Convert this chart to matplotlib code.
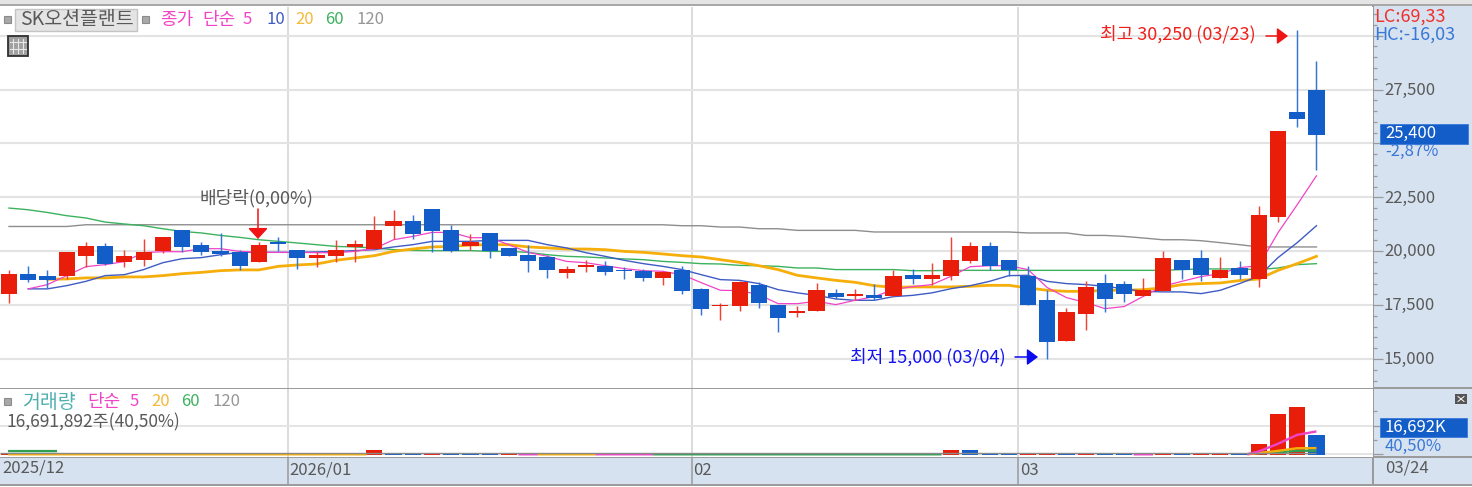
import numpy as np
import matplotlib
matplotlib.use("Agg")
import matplotlib.pyplot as plt
from matplotlib.patches import Rectangle
from matplotlib.ticker import FixedLocator, FuncFormatter
from matplotlib.transforms import ScaledTranslation

plt.rcParams["font.family"] = ["Noto Sans CJK KR", "DejaVu Sans"]

nan = float("nan")

# Daily prices, 2025/12 .. 03/24
opens = [18035, 18960, 18840, 18840, 19765, 20225, 19485, 19580, 20030, 20970, 20275, 19995, 19980, 19485, 20410,
         20075, 19690, 19765, 20200, 20105, 21155, 21405, 21960, 20970, 20225, 20850, 20155, 19810, 19735, 18995,
         19275, 19300, 19150, 19100, 18765, 19150, 18270, 17445, 17445, 18420, 17495, 17140, 17250, 18070, 17910,
         17990, 17910, 18885, 18715, 18840, 19565, 20225, 19580, 18840, 17725, 15860, 17110, 18530, 18465, 17945,
         18140, 19580, 19670, 18765, 19240, 18715, 21570, 26480, 27500]
closes = [18960, 18650, 18650, 19950, 20225, 19425, 19795, 19950, 20645, 20180, 19970, 19890, 19330, 20275, 20340,
          19690, 19840, 20075, 20350, 20970, 21405, 20815, 20920, 19995, 20430, 19995, 19765, 19530, 19115, 19180,
          19380, 19040, 19070, 18765, 19040, 18140, 17325, 17525, 18560, 17605, 16910, 17250, 18190, 17865, 18020,
          17835, 18840, 18715, 18885, 19580, 20225, 19330, 19150, 17525, 15780, 17170, 18345, 17805, 18020, 18220,
          19670, 19150, 18915, 19150, 18915, 21665, 25585, 26145, 25400]
highs = [19115, 19330, 19115, 19950, 20445, 20400, 20075, 20585, 20645, 20970, 20445, 20860, 20075, 20445, 20645,
         20075, 19980, 20505, 20505, 21615, 21895, 21695, 21960, 21200, 20800, 20850, 20155, 20275, 19840, 19300,
         19580, 19530, 19275, 19180, 19100, 19300, 18300, 17605, 18605, 18560, 17525, 17445, 18530, 18255, 18270,
         18500, 19115, 19180, 19460, 20645, 20430, 20430, 19580, 19300, 18190, 17375, 18605, 18960, 18605, 18765,
         19995, 19580, 20075, 19735, 19530, 22080, 25585, 30250, 28845]
lows = [17620, 18590, 18310, 18730, 19285, 19380, 19285, 19330, 19935, 19980, 19810, 19765, 19150, 19485, 19995,
        19195, 19275, 19485, 19485, 20105, 20570, 20570, 19970, 19970, 20040, 19690, 19765, 19040, 18765, 18765,
        19040, 18915, 18715, 18640, 18420, 18020, 17030, 16830, 17250, 17375, 16260, 16955, 17250, 17790, 17725,
        17725, 17910, 18500, 18455, 18650, 19460, 19150, 18840, 17525, 15000, 15860, 16335, 17190, 17650, 17945,
        18140, 18715, 18640, 18765, 18715, 18345, 21340, 25785, 23780]

# Moving averages of the close
ma5 = [nan, 18255, 18455, 18870, 19285, 19380, 19520, 19935, 19980, 19980, 20120, 20120, 19995, 19950, 19950,
       19950, 19935, 19935, 19995, 20120, 20535, 20690, 20875, 20875, 20630, 20630, 20305, 19950, 19765, 19530,
       19470, 19330, 19195, 19100, 19070, 18915, 18545, 18190, 18175, 17990, 17570, 17570, 17680, 17525, 17725,
       17895, 18220, 18360, 18455, 18840, 19285, 19330, 19330, 19150, 18315, 17850, 17620, 17340, 17435, 17910,
       18375, 18605, 18825, 18960, 19240, 19330, 20860, 22160, 23500]
ma10 = [nan, 18255, 18255, 18405, 18605, 18870, 18915, 19150, 19470, 19655, 19705, 19840, 19950, 19950, 19950,
        19950, 19970, 19995, 20030, 20075, 20200, 20305, 20460, 20460, 20460, 20505, 20505, 20505, 20305, 20155,
        19935, 19765, 19580, 19425, 19300, 19150, 18915, 18685, 18650, 18500, 18220, 18070, 17955, 17790, 17725,
        17725, 17895, 17955, 18070, 18265, 18405, 18605, 18870, 18885, 18605, 18500, 18455, 18375, 18260, 18140,
        18115, 18115, 18035, 18190, 18500, 18840, 19705, 20400, 21185]
ma20 = [nan, nan, 18700, 18715, 18765, 18765, 18810, 18810, 18870, 18960, 19020, 19100, 19135, 19135, 19300,
        19365, 19410, 19580, 19690, 19795, 19995, 20105, 20200, 20225, 20290, 20305, 20305, 20200, 20155, 20105,
        20105, 20075, 19995, 19950, 19875, 19795, 19735, 19610, 19485, 19330, 19150, 18885, 18765, 18650, 18560,
        18405, 18325, 18345, 18345, 18345, 18375, 18420, 18420, 18300, 18190, 18140, 18140, 18190, 18190, 18220,
        18300, 18455, 18500, 18530, 18640, 18715, 19115, 19425, 19765]
ma60 = [22005, 21925, 21800, 21650, 21545, 21355, 21265, 21185, 21045, 20920, 20850, 20735, 20645, 20535, 20460,
        20385, 20305, 20225, 20200, 20155, 20075, 20040, 20030, 20030, 20030, 19995, 19995, 19950, 19840, 19765,
        19735, 19690, 19645, 19610, 19530, 19485, 19425, 19410, 19345, 19330, 19300, 19225, 19225, 19150, 19150,
        19150, 19150, 19100, 19100, 19115, 19115, 19115, 19115, 19115, 19115, 19115, 19115, 19115, 19115, 19115,
        19115, 19150, 19180, 19180, 19180, 19150, 19225, 19380, 19425]
ma120 = [21150, 21150, 21150, 21150, 21230, 21230, 21230, 21230, 21230, 21230, 21230, 21230, 21230, 21230, 21230,
         21230, 21230, 21230, 21230, 21230, 21230, 21230, 21230, 21230, 21230, 21230, 21230, 21230, 21230, 21230,
         21230, 21230, 21230, 21230, 21230, 21185, 21185, 21125, 21125, 21045, 21045, 20970, 20970, 20970, 20970,
         20895, 20895, 20895, 20895, 20895, 20895, 20895, 20895, 20850, 20850, 20850, 20735, 20735, 20690, 20615,
         20535, 20535, 20490, 20400, 20305, 20200, 20200, 20200, 20200]

# Volume in thousands of shares, with the up/down colour of each bar
volume = [900, 250, 250, 250, 250, 250, 250, 250, 250, 250, 250, 250, 250, 250, 250,
          250, 250, 250, 250, 3700, 1000, 1000, 1050, 1000, 1000, 1000, 1050, 250, 250, 250,
          250, 250, 250, 250, 250, 250, 250, 250, 250, 250, 250, 250, 250, 250, 250,
          250, 250, 250, 250, 3760, 3500, 1000, 1000, 1050, 1050, 1000, 1050, 1000, 1000, 250,
          1050, 1000, 1050, 1050, 1000, 8740, 34960, 41214, 16692]
volume_rising = [1, 0, 0, 0, 0, 0, 0, 0, 0, 0, 0, 0, 0, 0, 0,
                 0, 0, 0, 0, 1, 0, 0, 1, 0, 0, 0, 1, 0, 0, 0,
                 0, 0, 0, 0, 0, 0, 0, 0, 0, 0, 0, 0, 0, 0, 0,
                 0, 0, 0, 0, 1, 0, 0, 0, 1, 1, 0, 1, 0, 0, 0,
                 1, 0, 1, 1, 0, 1, 1, 1, 0]

vol_ma5_x = [26.5, 27.5, nan, 30.5, 33.5, nan, 58.5, 59.5, nan, 64.4, 65, 66, 67, 68]
vol_ma5 = [10, 10, nan, 10, 10, nan, 10, 10, nan, 10, 2500, 9200, 17000, 20000]
vol_ma20_x = [-0.05, 18.6, nan, 27.5, 30.5, nan, 64.4, 65, 66, 67, 68]
vol_ma20 = [10, 10, nan, 10, 10, nan, 10, 1150, 3000, 5300, 5400]
vol_ma60_x = [-0.05, 2.5, nan, 33.5, 48.5, nan, 65, 66, 67, 68]
vol_ma60 = [2800, 2800, nan, 10, 10, nan, 900, 1700, 3100, 3100]
vol_ma120_x = [-0.45, 68]
vol_ma120 = [1130, 1130]

# Month labels, placed on the first session of each month
month_pos = [14.5, 35.5, 52.5]
month_labels = ["2026/01", "02", "03"]
price_ticks = [15000, 17500, 20000, 22500, 25000, 27500, 30000]
price_labelled = [15000, 17500, 20000, 22500, 27500]

W, H = 1472, 487
RED, BLUE = "#E81D0A", "#135DC9"
RED_W, BLUE_W = "#EE4434", "#3274D8"
PINK, NAVY, ORANGE, GREEN, GRAY = "#F044C8", "#3F5BC4", "#F5AE0A", "#3CB25E", "#969696"
STRIP = "#D6E2F0"
AXIS = "#9A9A9A"
INK = "#595959"
XL = (-9 / 19.22, (1372 - 9) / 19.22)


def panel(x0, y0, x1, y1, **kw):
    return fig.add_axes([x0 / W, 1 - y1 / H, (x1 - x0) / W, (y1 - y0) / H], **kw)


fig = plt.figure(figsize=(W / 100, H / 100), dpi=100, facecolor="white")

# Window furniture behind the two chart panels
bg = fig.add_axes([0, 0, 1, 1], zorder=0)
bg.set_xlim(0, W)
bg.set_ylim(H, 0)
bg.axis("off")
bg.add_patch(Rectangle((0, 0), W, 4, color="#E4E4E4", lw=0))
bg.add_patch(Rectangle((0, 4), W, 2, color="#A8A8A8", lw=0))
bg.add_patch(Rectangle((1373, 6), W - 1373, H - 9, color=STRIP, lw=0))
bg.add_patch(Rectangle((0, 458), W, 26, color=STRIP, lw=0))
bg.plot([0, W], [388.2, 388.2], color=AXIS, lw=1.4)
bg.plot([0, W], [457.3, 457.3], color=AXIS, lw=1.4)
bg.plot([0, W], [484.5, 484.5], color=AXIS, lw=1.4)
bg.plot([1372.8, 1372.8], [6, 484], color=AXIS, lw=1.4)

up_shift = ScaledTranslation(0, 1.0 / 72, fig.dpi_scale_trans)

# Price panel
ax = panel(0, 7, 1372.5, 387.5, zorder=1)
ax.set_xlim(*XL)
ax.set_ylim(13680, 31332)
idx = np.arange(len(opens))
ax.plot(idx, ma120, color="#8E8E8E", lw=1.0, zorder=2.0)
ax.plot(idx, ma60, color=GREEN, lw=1.0, zorder=2.1)
ax.plot(idx, ma20, color=ORANGE, lw=2.0, zorder=2.2)
ax.plot(idx, ma10, color=NAVY, lw=1.0, zorder=2.3)
ax.plot(idx, ma5, color=PINK, lw=0.9, zorder=2.4)
for i, (o, h, l, c) in enumerate(zip(opens, highs, lows, closes)):
    up = c > o
    ax.vlines(i, l, h, color=RED_W if up else BLUE_W, lw=1.05, zorder=3)
    ax.bar(i, abs(c - o), bottom=min(o, c), width=0.84, color=RED if up else BLUE, lw=0, zorder=3.1)

ax.set_yticks(price_ticks)
ax.yaxis.set_minor_locator(FixedLocator(np.arange(14000, 31500, 500)))
ax.yaxis.tick_right()
ax.yaxis.set_major_formatter(FuncFormatter(lambda v, _: f"{int(v):,}" if v in price_labelled else ""))
ax.tick_params(axis="y", which="major", length=7.2, width=0.9, color=AXIS, labelsize=12, labelcolor=INK, pad=1)
ax.tick_params(axis="y", which="minor", length=3.0, width=0.9, color=AXIS)
for lab in ax.get_yticklabels():
    lab.set_transform(lab.get_transform() + up_shift)
ax.set_xticks(month_pos)
ax.tick_params(axis="x", length=0, labelbottom=False)
ax.grid(axis="y", color="#E3E3E3", lw=1.5, zorder=0)
ax.grid(axis="x", color="#D2D2D2", lw=1.1, zorder=0)
ax.set_axisbelow(True)
for s in ax.spines.values():
    s.set_visible(False)

# Volume panel
vx = panel(0, 389, 1372.5, 456.5, zorder=1)
vx.set_xlim(*XL)
vx.set_ylim(-1920, 57070)
base = -1000
bar_colors = [RED if r else BLUE for r in volume_rising]
vx.bar(idx, np.array(volume) - base, bottom=base, width=0.84, color=bar_colors, lw=0, zorder=3)
vx.plot(vol_ma60_x, vol_ma60, color="#2FA052", lw=1.7, zorder=4, solid_capstyle="butt")
vx.plot(vol_ma20_x, vol_ma20, color=ORANGE, lw=1.7, zorder=4.1, solid_capstyle="butt")
vx.plot(vol_ma5_x, vol_ma5, color=PINK, lw=1.7, zorder=4.2, solid_capstyle="butt")
vx.plot(vol_ma120_x, vol_ma120, color="#8A8A8A", lw=1.0, zorder=4.3, solid_capstyle="butt")

vx.set_yticks([0, 25000])
vx.yaxis.set_minor_locator(FixedLocator([12500, 37500]))
vx.yaxis.tick_right()
vx.set_yticklabels(["", "25,000K"])
vx.tick_params(axis="y", which="major", length=7.2, width=0.9, color=AXIS, labelsize=12, labelcolor=INK, pad=1)
vx.tick_params(axis="y", which="minor", length=3.0, width=0.9, color=AXIS)
for lab in vx.get_yticklabels():
    lab.set_transform(lab.get_transform() + up_shift)
vx.grid(axis="y", color="#E3E3E3", lw=1.3, zorder=0)
vx.grid(axis="x", color="#D2D2D2", lw=1.1, zorder=0)
vx.set_axisbelow(True)
vx.set_xticks(month_pos)
vx.set_xticklabels(month_labels, ha="left", fontsize=12, color=INK)
vx.tick_params(axis="x", length=19.8, width=1.1, color=AXIS, pad=-15.9)
shift = ScaledTranslation(1.4 / 72, 0, fig.dpi_scale_trans)
for lab in vx.get_xticklabels():
    lab.set_transform(lab.get_transform() + shift)
for s in vx.spines.values():
    s.set_visible(False)

# Overlay: legends, value boxes and pointers
ov = fig.add_axes([0, 0, 1, 1], zorder=5)
ov.set_xlim(0, W)
ov.set_ylim(H, 0)
ov.axis("off")
ov.patch.set_alpha(0)


def label(x, y, s, color=INK, size=12, ha="left"):
    ov.text(x, y, s, color=color, fontsize=size, ha=ha, va="center")


def square(x, y):
    ov.add_patch(Rectangle((x, y), 7, 7, fc="#A8A8A8", ec="#8C8C8C", lw=0.8))


def arrow(x0, y0, x1, y1, color, hl=0.6, hw=0.45):
    ov.annotate("", xy=(x1, y1), xytext=(x0, y0),
                arrowprops=dict(arrowstyle=f"-|>,head_length={hl},head_width={hw}", mutation_scale=11,
                                color=color, lw=1.1, shrinkA=0, shrinkB=0))


square(4, 15.5)
ov.add_patch(Rectangle((15, 9), 122, 21.5, fc="#E4E4E4", ec="#C4C4C4", lw=1.0))
label(20, 20, "SK오션플랜트", size=14)
square(142, 15.5)
label(160, 20, "종가", PINK, 13)
label(202, 20, "단순", PINK, 13)
label(243, 20, "5", PINK, 12)
label(266, 20, "10", NAVY, 12)
label(295, 20, "20", "#F5B93C", 12)
label(325, 20, "60", GREEN, 12)
label(356, 20, "120", GRAY, 12)

# Table icon under the name button
ov.add_patch(Rectangle((8, 36), 20, 20, fc="#A0A0A0", ec="#303030", lw=1.3))
for xx in (13, 18, 23):
    ov.plot([xx, xx], [39, 53], color="#E8E8E8", lw=0.8)
ov.plot([10, 26], [42, 42], color="#E8E8E8", lw=0.8)
ov.plot([10, 26], [49, 49], color="#E8E8E8", lw=0.8)

label(1100, 34, "최고 30,250 (03/23)", "#F0201A", 13)
arrow(1266, 36, 1288, 36, "#F01414")
label(850, 357, "최저 15,000 (03/04)", "#1414F0", 13)
arrow(1015, 357, 1038, 357, "#0A0AF0")
label(200, 198, "배당락(0,00%)", INK, 13)
arrow(258, 209, 258, 239, "#F01414", hl=0.6, hw=0.55)

label(1374, 17, "LC:69,33", "#F0302A", 13)
label(1374, 35, "HC:-16,03", "#3A78D8", 13)
ov.add_patch(Rectangle((1380, 123.5), 87.5, 20, fc=BLUE, ec="#3A78D8", lw=0.6))
label(1385, 133, "25,400", "white", 12)
label(1385, 151, "-2,87%", "#3A78D8", 12)

square(4, 398)
label(22, 402, "거래량", "#50B0B0", 14)
label(87, 402, "단순", PINK, 13)
label(130, 402, "5", PINK, 12)
label(151, 402, "20", "#F5B93C", 12)
label(181, 402, "60", GREEN, 12)
label(212, 402, "120", GRAY, 12)
label(7, 422, "16,691,892주(40,50%)", INK, 12.5)

ov.add_patch(Rectangle((1380, 417.5), 87, 19, fc=BLUE, ec="#3A78D8", lw=0.6))
label(1385, 427, "16,692K", "white", 12)
label(1385, 446, "40,50%", "#3A78D8", 12)

# Small expand button at the volume panel's corner
ov.add_patch(Rectangle((1455, 394), 12, 10, fc="#555555", lw=0))
ov.plot([1458, 1464], [396.5, 401.5], color="white", lw=0.7)
ov.plot([1458, 1464], [401.5, 396.5], color="white", lw=0.7)

label(2, 468, "2025/12", INK, 12)
label(1385, 468, "03/24", INK, 12)

fig.savefig("out.png", dpi=100, facecolor="white")
